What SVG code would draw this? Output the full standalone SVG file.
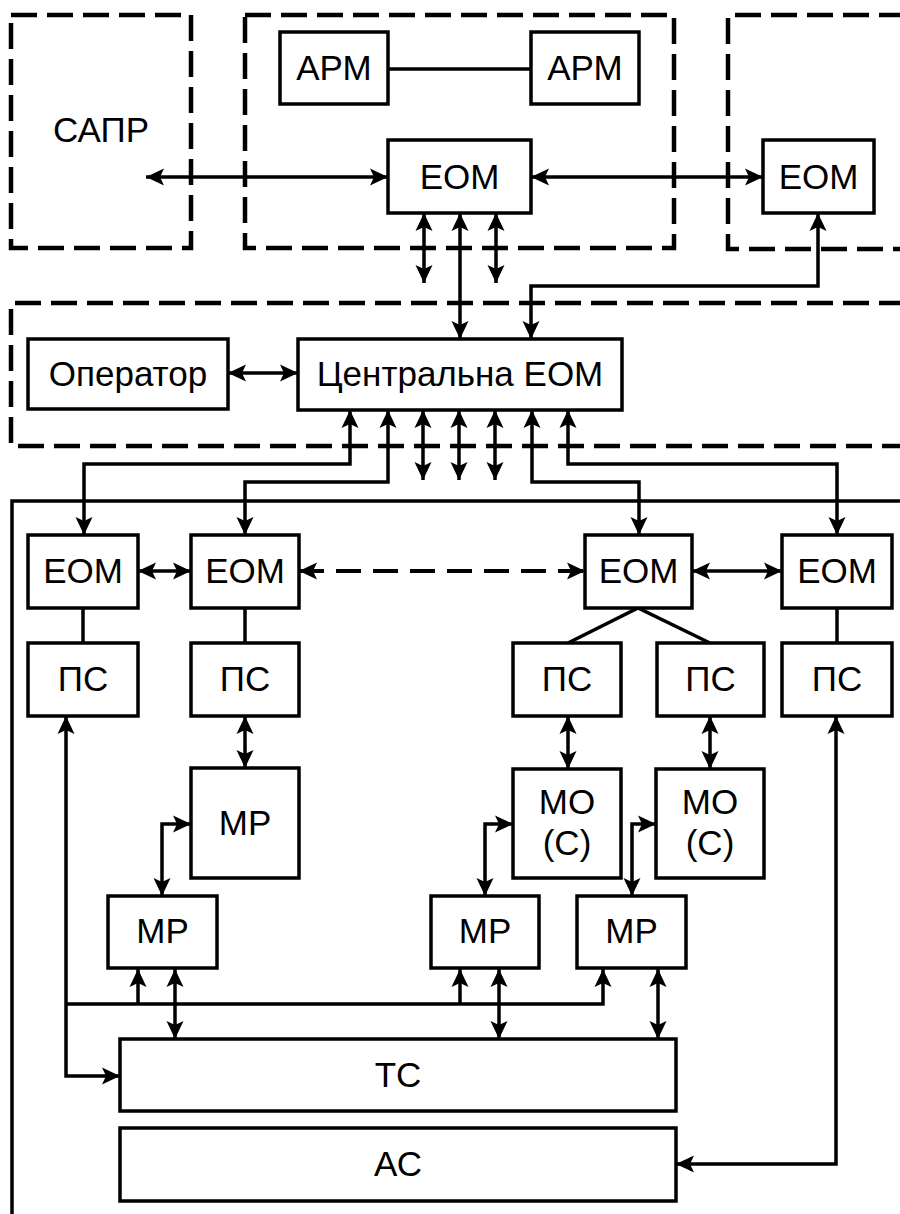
<svg xmlns="http://www.w3.org/2000/svg" width="900" height="1214" viewBox="0 0 900 1214">
<style>
.bg{fill:#fff}
.b{fill:#fff;stroke:#000;stroke-width:3.5}
.d{fill:none;stroke:#000;stroke-width:4.5;stroke-dasharray:26 10}
.o{fill:none;stroke:#000;stroke-width:3.5}
.c{fill:none;stroke:#000;stroke-width:3.5}
.a{marker-start:url(#ah);marker-end:url(#ah)}
.e{marker-end:url(#ah)}
.cd{stroke-width:4;stroke-dasharray:25 12}
text{font-family:"Liberation Sans",Arial,sans-serif;font-size:35px;fill:#000;text-anchor:middle}
</style>
<defs>
<marker id="ah" viewBox="-19 -10 20 20" refX="0" refY="0" markerWidth="20" markerHeight="20" markerUnits="userSpaceOnUse" orient="auto-start-reverse">
<path d="M0,0 L-18,-8.5 L-14,0 L-18,8.5 Z" fill="#000" stroke="none"/>
</marker>
</defs>
<rect class="bg" x="0" y="0" width="900" height="1214"/>
<g id="frames">
<rect class="d" x="11" y="15" width="180" height="233"/>
<rect class="d" x="245" y="15" width="429" height="233"/>
<path class="d" d="M905,15 H728 V249 H905"/>
<path class="d" d="M905,303 H11 V446 H905"/>
<path class="o" d="M12,1220 V501 H905"/>
</g>
<g id="connectors">
<path class="c" d="M388,69 H531"/>
<path class="c a" d="M146,177 H388"/>
<path class="c a" d="M531,177 H763"/>
<path class="c a" d="M424,213 V283"/>
<path class="c a" d="M460,213 V339"/>
<path class="c a" d="M496,213 V283"/>
<path class="c a" d="M531,339 V286 H818 V213"/>
<path class="c a" d="M228,373 H298"/>
<path class="c a" d="M350,410 V464 H84 V535"/>
<path class="c a" d="M388,410 V482 H245 V535"/>
<path class="c a" d="M423,410 V480"/>
<path class="c a" d="M459,410 V480"/>
<path class="c a" d="M495,410 V480"/>
<path class="c a" d="M532,410 V482 H639 V535"/>
<path class="c a" d="M568,410 V464 H837 V535"/>
<path class="c a" d="M138,571 H191"/>
<path class="c a cd" d="M299,571 H585"/>
<path class="c a" d="M692,571 H782"/>
<path class="c" d="M83,608 V643"/>
<path class="c" d="M245,608 V643"/>
<path class="c" d="M568,643 L638,608 L710,643"/>
<path class="c" d="M837,608 V643"/>
<path class="c a" d="M120,1076 H66 V716"/>
<path class="c a" d="M245,716 V768"/>
<path class="c a" d="M568,716 V769"/>
<path class="c a" d="M710,716 V769"/>
<path class="c a" d="M836,716 V1164 H676"/>
<path class="c a" d="M191,824 H162 V896"/>
<path class="c a" d="M513,824 H485 V896"/>
<path class="c a" d="M656,824 H632 V896"/>
<path class="c e" d="M66,1004 H603 V969"/>
<path class="c e" d="M138,1004 V969"/>
<path class="c e" d="M460,1004 V969"/>
<path class="c a" d="M175,969 V1039"/>
<path class="c a" d="M499,969 V1039"/>
<path class="c a" d="M658,969 V1039"/>
</g>
<g id="sapr"><text x="101" y="142">САПР</text></g>
<g id="arm1"><rect class="b" x="280" y="32" width="108" height="72"/><text x="334" y="80">АРМ</text></g>
<g id="arm2"><rect class="b" x="531" y="32" width="108" height="72"/><text x="585" y="80">АРМ</text></g>
<g id="eom-top"><rect class="b" x="388" y="140" width="143" height="73"/><text x="459.5" y="189">ЕОМ</text></g>
<g id="eom-top-right"><rect class="b" x="763" y="140" width="111" height="73"/><text x="818.5" y="189">ЕОМ</text></g>
<g id="operator"><rect class="b" x="28" y="339" width="200" height="70"/><text x="128" y="386">Оператор</text></g>
<g id="central"><rect class="b" x="298" y="339" width="324" height="71"/><text x="460" y="386">Центральна ЕОМ</text></g>
<g id="eom1"><rect class="b" x="28" y="535" width="110" height="73"/><text x="83" y="583">ЕОМ</text></g>
<g id="eom2"><rect class="b" x="191" y="535" width="108" height="73"/><text x="245" y="583">ЕОМ</text></g>
<g id="eom3"><rect class="b" x="585" y="535" width="107" height="73"/><text x="638.5" y="583">ЕОМ</text></g>
<g id="eom4"><rect class="b" x="782" y="535" width="110" height="73"/><text x="837" y="583">ЕОМ</text></g>
<g id="ps1"><rect class="b" x="28" y="643" width="110" height="73"/><text x="83" y="691">ПС</text></g>
<g id="ps2"><rect class="b" x="191" y="643" width="108" height="73"/><text x="245" y="691">ПС</text></g>
<g id="ps3"><rect class="b" x="513" y="643" width="108" height="73"/><text x="567" y="691">ПС</text></g>
<g id="ps4"><rect class="b" x="657" y="643" width="107" height="73"/><text x="710.5" y="691">ПС</text></g>
<g id="ps5"><rect class="b" x="782" y="643" width="110" height="73"/><text x="837" y="691">ПС</text></g>
<g id="mr-big"><rect class="b" x="191" y="768" width="108" height="110"/><text x="245" y="835">МР</text></g>
<g id="mo1"><rect class="b" x="513" y="769" width="108" height="109"/><text x="567" y="814">МО</text><text x="567" y="855">(С)</text></g>
<g id="mo2"><rect class="b" x="656" y="769" width="108" height="109"/><text x="710" y="814">МО</text><text x="710" y="855">(С)</text></g>
<g id="mr1"><rect class="b" x="108" y="896" width="109" height="72"/><text x="162.5" y="943">МР</text></g>
<g id="mr2"><rect class="b" x="431" y="896" width="108" height="72"/><text x="485" y="943">МР</text></g>
<g id="mr3"><rect class="b" x="577" y="896" width="109" height="72"/><text x="631.5" y="943">МР</text></g>
<g id="ts"><rect class="b" x="120" y="1039" width="556" height="72"/><text x="398" y="1087">ТС</text></g>
<g id="as"><rect class="b" x="120" y="1128" width="556" height="73"/><text x="398" y="1176">АС</text></g>
</svg>
